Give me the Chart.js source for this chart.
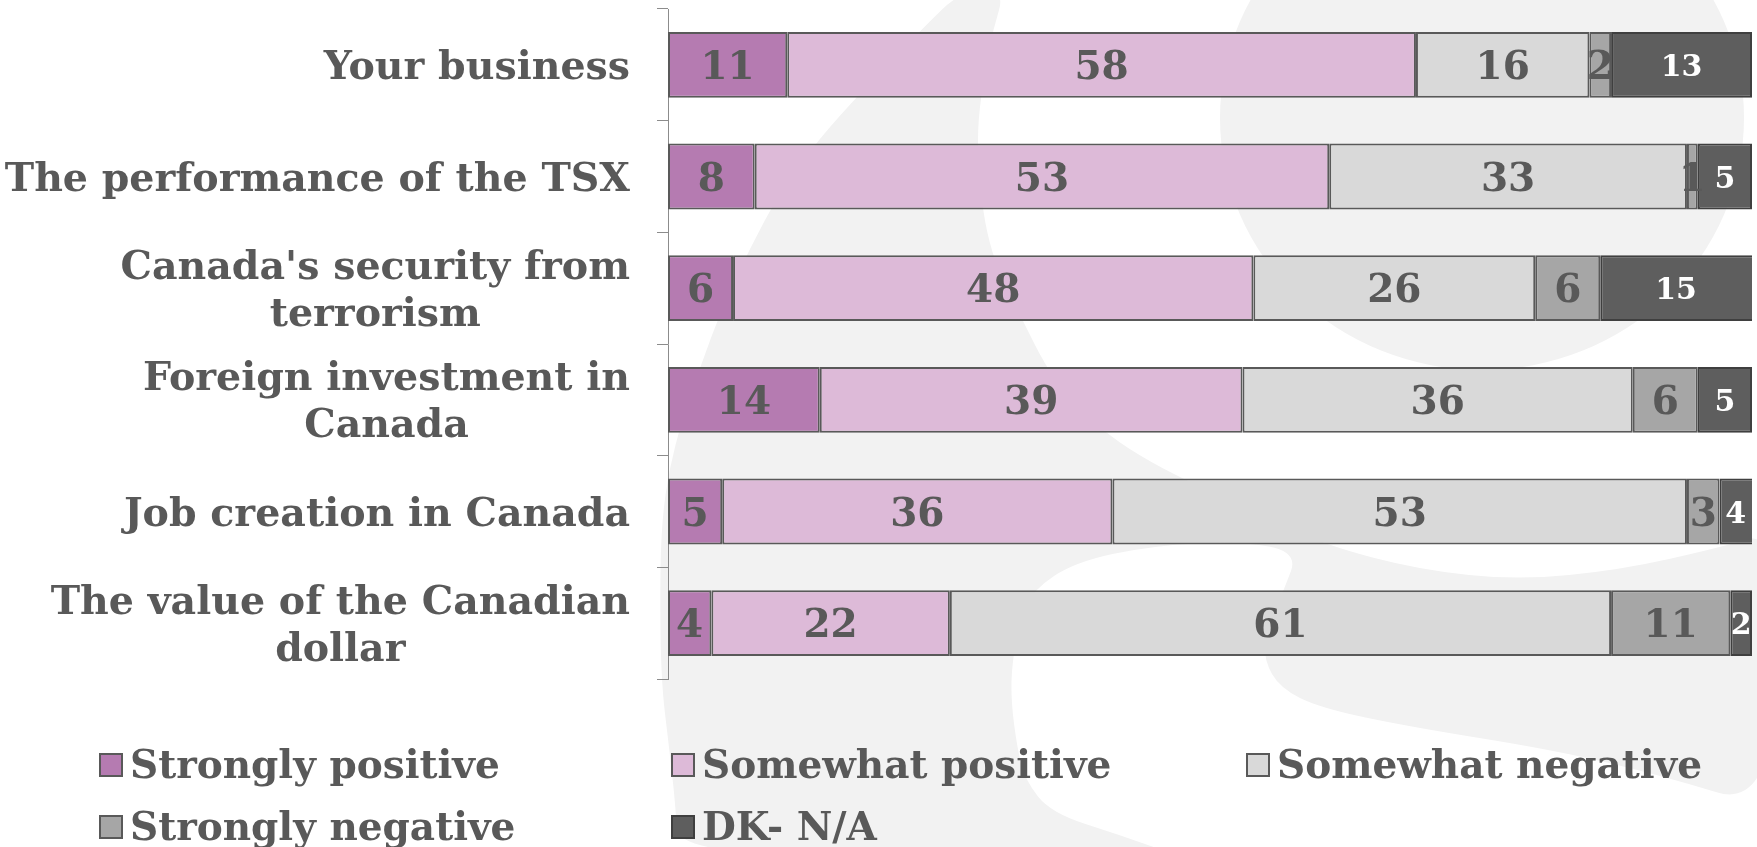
<!DOCTYPE html>
<html>
<head>
<meta charset="utf-8">
<title>Impact ratings</title>
<script src="https://cdn.jsdelivr.net/npm/chart.js@4.4.1/dist/chart.umd.min.js"></script>
<style>
  html, body { margin: 0; padding: 0; background: #fff; }
  #wrap { position: relative; width: 1757px; height: 847px; overflow: hidden; }
  #chart { position: absolute; left: 0; top: 0; }
  #legend { position: absolute; left: 0; top: 0; width: 1757px; height: 847px; pointer-events: none;
    font-family: "DejaVu Serif", serif; font-weight: bold; font-size: 39px; color: #595959; }
  #legend .item { position: absolute; white-space: nowrap; line-height: 39px; display: flex; align-items: center; }
  #legend .box { box-sizing: border-box; width: 24px; height: 24px; border: 2px solid #595959; margin-right: 7px; }
</style>
</head>
<body>
<div id="wrap">
  <canvas id="chart" width="1757" height="847"></canvas>
  <div id="legend"></div>
</div>
<script>
/* ---------- Data ---------- */
const categories = [
  'Your business',
  'The performance of the TSX',
  ["Canada's security from", 'terrorism'],
  ['Foreign investment in', 'Canada'],
  'Job creation in Canada',
  ['The value of the Canadian', 'dollar'],
];

const seriesNames = ['Strongly positive', 'Somewhat positive', 'Somewhat negative', 'Strongly negative', 'DK- N/A'];

const stronglyPositive = [11, 8, 6, 14, 5, 4];
const somewhatPositive = [58, 53, 48, 39, 36, 22];
const somewhatNegative = [16, 33, 26, 36, 53, 61];
const stronglyNegative = [2, 1, 6, 6, 3, 11];
const dontKnow = [13, 5, 15, 5, 4, 2];

/* ---------- Styles ---------- */
const colors = ['#B57BB1', '#DDBAD8', '#D9D9D9', '#A6A6A6', '#5E5E5E'];
const borders = ['#595959', '#595959', '#595959', '#595959', '#3F3F3F'];
const TEXT = '#595959';
const FONT = '"DejaVu Serif", serif';

// faint watermark behind the plot (decoration only, not data)
const swoosh = [
  [1005, -10], [962, -10], [921, 30], [865, 88], [818, 140], [780, 192], [749, 250], [722, 308],
  [701, 365], [682, 420], [669, 470], [662, 520], [660, 580], [661, 680], [669, 747], [675, 800], [679, 860],
  [1190, 860], [1120, 835], [1051, 813], [1025, 780], [1017, 747], [1011, 700], [1012, 663], [1020, 620],
  [1033, 590], [1075, 562], [1150, 546], [1240, 541], [1298, 552], [1284, 590], [1266, 630], [1264, 660],
  [1280, 688], [1320, 708], [1411, 727], [1554, 750], [1660, 775], [1775, 810],
  [1780, 530], [1718, 548], [1620, 570], [1518, 580], [1420, 570], [1325, 545], [1260, 515], [1200, 487],
  [1150, 462], [1108, 435], [1070, 400], [1045, 365], [1024, 323], [1005, 285], [992, 253], [983, 213],
  [978, 160], [978, 120], [985, 70], [993, 30],
];

/* ---------- Plugins ---------- */
const watermark = {
  id: 'watermark',
  beforeDraw(chart) {
    const ctx = chart.ctx;
    ctx.save();
    ctx.fillStyle = '#F2F2F2';
    ctx.beginPath();
    const n = swoosh.length;
    const mid = (a, b) => [(a[0] + b[0]) / 2, (a[1] + b[1]) / 2];
    const start = mid(swoosh[n - 1], swoosh[0]);
    ctx.moveTo(start[0], start[1]);
    for (let i = 0; i < n; i++) {
      const p = swoosh[i];
      const m = mid(p, swoosh[(i + 1) % n]);
      ctx.quadraticCurveTo(p[0], p[1], m[0], m[1]);
    }
    ctx.closePath();
    ctx.fill();
    ctx.beginPath();
    ctx.ellipse(1482, 118, 262, 252, 0, 0, Math.PI * 2);
    ctx.fill();
    ctx.restore();
  },
};

const categoryLabels = {
  id: 'categoryLabels',
  afterDraw(chart) {
    const ctx = chart.ctx;
    const y = chart.scales.y;
    ctx.save();
    ctx.font = `bold 39.5px ${FONT}`;
    ctx.fillStyle = TEXT;
    ctx.textAlign = 'center';
    ctx.textBaseline = 'alphabetic';
    categories.forEach((label, i) => {
      const lines = Array.isArray(label) ? label : [label];
      const w = Math.max(...lines.map(l => ctx.measureText(l).width));
      const cx = 630 - w / 2;
      const yc = y.getPixelForValue(i);
      lines.forEach((line, j) => {
        ctx.fillText(line, cx, yc + (j - (lines.length - 1) / 2) * 47 + 14);
      });
    });
    ctx.restore();
  },
};

const valueLabels = {
  id: 'valueLabels',
  afterDatasetsDraw(chart) {
    const { ctx, chartArea } = chart;
    ctx.save();
    ctx.textAlign = 'center';
    chart.data.datasets.forEach((ds, di) => {
      const white = di === 4;
      ctx.font = `bold ${white ? 30 : 39}px ${FONT}`;
      ctx.fillStyle = white ? '#FFFFFF' : TEXT;
      chart.getDatasetMeta(di).data.forEach((bar, i) => {
        const x0 = Math.max(Math.min(bar.base, bar.x), chartArea.left);
        const x1 = Math.min(Math.max(bar.base, bar.x), chartArea.right);
        ctx.fillText(String(ds.data[i]), (x0 + x1) / 2, bar.y + (white ? 11 : 14));
      });
    });
    ctx.restore();
  },
};

/* ---------- Chart ---------- */
const seriesData = [stronglyPositive, somewhatPositive, somewhatNegative, stronglyNegative, dontKnow];

new Chart(document.getElementById('chart'), {
  type: 'bar',
  data: {
    labels: categories,
    datasets: seriesNames.map((name, i) => ({
      label: name,
      data: seriesData[i],
      backgroundColor: colors[i],
      borderColor: borders[i],
      borderWidth: 2,
      borderSkipped: false,
      barPercentage: 0.59,
      categoryPercentage: 1,
    })),
  },
  options: {
    indexAxis: 'y',
    responsive: false,
    animation: false,
    layout: { padding: { top: 9, bottom: 168, right: 5, left: 0 } },
    plugins: { legend: { display: false }, tooltip: { enabled: false } },
    scales: {
      x: { stacked: true, min: 0, max: 100, display: false },
      y: {
        stacked: true,
        ticks: { display: false },
        grid: { drawOnChartArea: false, drawTicks: true, tickLength: 11, color: '#8C8C8C', lineWidth: 1 },
        border: { display: true, color: '#8C8C8C', width: 1 },
        afterFit(scale) { scale.width = 668; },
      },
    },
  },
  plugins: [watermark, valueLabels, categoryLabels],
});

/* ---------- Legend ---------- */
const legendCols = [99, 671, 1246];
const legendRows = [745, 807];
const legendEl = document.getElementById('legend');
seriesNames.forEach((name, i) => {
  const item = document.createElement('div');
  item.className = 'item';
  item.style.left = legendCols[i % 3] + 'px';
  item.style.top = legendRows[Math.floor(i / 3)] + 'px';
  item.innerHTML = `<span class="box" style="background:${colors[i]};border-color:${borders[i]}"></span><span>${name}</span>`;
  legendEl.appendChild(item);
});
</script>
</body>
</html>
